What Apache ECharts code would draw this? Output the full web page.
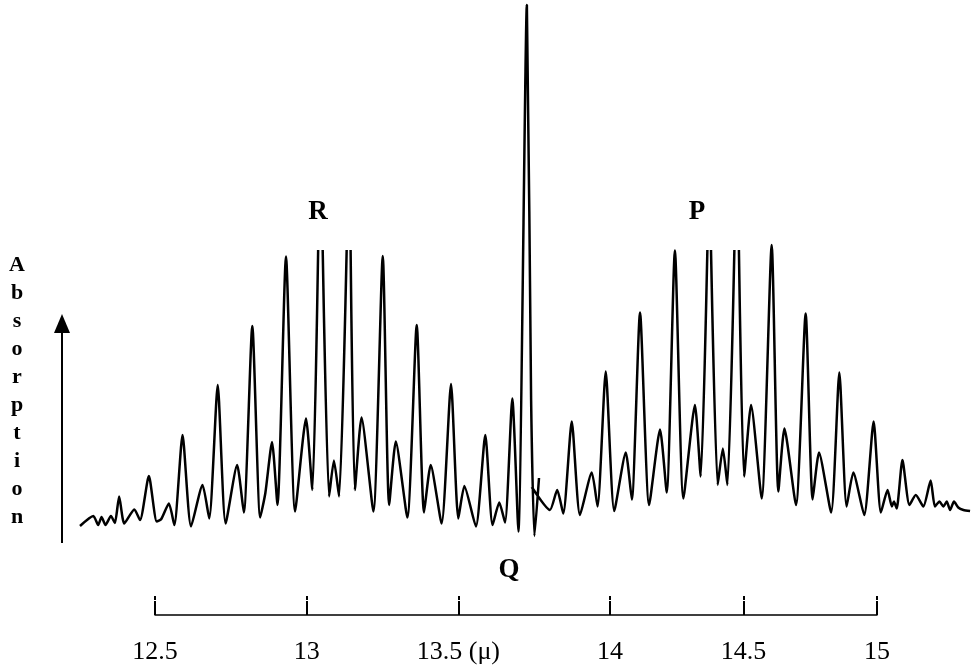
<!DOCTYPE html>
<html>
<head>
<meta charset="utf-8">
<script src="https://cdn.jsdelivr.net/npm/echarts@6/dist/echarts.min.js"></script>
<style>
  html, body { margin: 0; padding: 0; background: #fff; }
  #spectrum { width: 971px; height: 666px; }
</style>
</head>
<body>
<div id="spectrum"></div>
<script>
// wavelength (μ) and absorption; null = pen off scale / break
var rX = [12.253, 12.297, 12.313, 12.324, 12.337, 12.355, 12.368, 12.382, 12.399, 12.432,
	12.451, 12.480, 12.506, 12.521, 12.546, 12.564, 12.591, 12.619, 12.657, 12.679,
	12.707, 12.733, 12.771, 12.793, 12.821, 12.847, 12.864, 12.886, 12.904, 12.932,
	12.962, 12.998, 13.019, 13.038, 13.045, 13.053, 13.074, 13.090, 13.107, 13.132,
	13.139, 13.145, 13.159, 13.181, 13.220, 13.251, 13.272, 13.294, 13.332, 13.363,
	13.387, 13.409, 13.445, 13.476, 13.500, 13.520, 13.558, 13.589, 13.613, 13.635,
	13.654, 13.678, 13.698];
var rY = [2.8, 4.8, 3.0, 4.6, 3.0, 4.8, 3.4, 8.7, 3.3, 6.1,
	4.0, 12.8, 3.7, 4.2, 7.3, 3.0, 21.0, 2.7, 11.0, 4.3,
	31.0, 3.3, 15.0, 5.5, 42.8, 4.5, 9.4, 19.6, 7.0, 56.7,
	5.7, 24.3, 10.0, 58, null, 58, 8.7, 15.9, 8.7, 58,
	null, 58, 10.0, 24.5, 5.7, 56.8, 7.0, 19.7, 4.5, 43.0,
	5.5, 15.0, 3.3, 31.2, 4.3, 10.8, 2.7, 21.0, 3.0, 7.5,
	3.5, 28.3, 1.7];

var qX = [13.726, 13.740, 13.751, 13.766, 13.766];
var qY = [107, 28, 0.8, 12.4, null];

var pX = [13.742, 13.802, 13.826, 13.846, 13.874, 13.901, 13.940, 13.959, 13.986, 14.014,
	14.052, 14.072, 14.099, 14.129, 14.165, 14.187, 14.214, 14.242, 14.280, 14.299,
	14.321, 14.327, 14.333, 14.355, 14.372, 14.387, 14.410, 14.417, 14.425, 14.442,
	14.465, 14.500, 14.533, 14.555, 14.575, 14.613, 14.645, 14.668, 14.689, 14.729,
	14.756, 14.780, 14.802, 14.838, 14.869, 14.893, 14.915, 14.929, 14.936, 14.945,
	14.964, 14.987, 15.008, 15.033, 15.057, 15.071, 15.086, 15.099, 15.110, 15.121,
	15.134, 15.148, 15.165, 15.187];
var pY = [10.6, 6.0, 10.0, 5.3, 23.7, 5.0, 13.5, 6.7, 33.7, 5.8,
	17.5, 8.1, 45.5, 7.0, 22.1, 9.5, 57.9, 8.3, 27.0, 12.7,
	58, null, 58, 11.0, 18.3, 11.0, 58, null, 58, 12.7,
	27.0, 8.3, 59.0, 9.7, 22.3, 7.0, 45.3, 8.1, 17.5, 5.5,
	33.5, 6.7, 13.5, 5.0, 23.7, 5.5, 10.0, 6.7, 7.7, 6.3,
	16.0, 7.0, 9.0, 6.7, 11.9, 6.7, 7.7, 6.7, 7.7, 6.0,
	7.7, 6.5, 6.0, 5.8];

// printed scale: tick positions on the wavelength axis and their labels
var tickPos = [12.5, 13, 13.5, 14, 14.44, 14.88];
var tickText = ["12.5", "13", "13.5 (μ)", "14", "14.5", "15"];

var axisLetters = ["A", "b", "s", "o", "r", "p", "t", "i", "o", "n"];

function pairs(xs, ys) {
	return xs.map(function (x, i) {
		return [x, ys[i] === null ? "-" : ys[i]];
	});
}
var trace = pairs(rX, rY).concat(pairs(qX, qY), pairs(pX, pY));

var serif = '"Liberation Serif", "DejaVu Serif", serif';

var myChart = echarts.init(document.getElementById("spectrum"));

var option = {
	backgroundColor: "#fff",
	animation: false,
	grid: [
		{ left: 80, right: 0, top: 5, bottom: 126 },
		{ left: 155, right: 94, top: 600, height: 15 }
	],
	xAxis: [
		{ type: "value", gridIndex: 0, min: 12.253, max: 15.19, show: false },
		{
			type: "value",
			gridIndex: 1,
			min: 12.5,
			max: 14.88,
			axisLine: { show: true, lineStyle: { color: "#000", width: 1.5 } },
			axisTick: {
				show: true,
				inside: true,
				length: 14,
				customValues: tickPos,
				lineStyle: { color: "#000", width: 2 }
			},
			axisLabel: {
				show: true,
				customValues: tickPos,
				margin: 24,
				color: "#000",
				fontFamily: serif,
				fontSize: 26,
				formatter: function (v) {
					var i = tickPos.indexOf(v);
					return i < 0 ? "" : tickText[i];
				}
			},
			splitLine: { show: false }
		},
		{
			type: "value",
			gridIndex: 1,
			min: 12.5,
			max: 14.88,
			axisLine: { show: false },
			axisTick: {
				show: true,
				inside: false,
				length: 4,
				customValues: tickPos,
				lineStyle: { color: "#000", width: 2 }
			},
			axisLabel: { show: false },
			splitLine: { show: false }
		}
	],
	yAxis: [
		{ type: "value", gridIndex: 0, min: 0, max: 107, show: false },
		{ type: "value", gridIndex: 1, min: 0, max: 1, show: false }
	],
	series: [
		{
			type: "line",
			xAxisIndex: 0,
			yAxisIndex: 0,
			data: trace,
			showSymbol: false,
			smooth: 0.2,
			connectNulls: false,
			clip: false,
			lineStyle: { color: "#000", width: 2.5 }
		}
	],
	graphic: [
		// absorption arrow
		{
			type: "line",
			shape: { x1: 62, y1: 543, x2: 62, y2: 328 },
			style: { stroke: "#000", lineWidth: 2 }
		},
		{
			type: "polygon",
			shape: { points: [[62, 314], [54, 333], [70, 333]] },
			style: { fill: "#000" }
		},
		{
			type: "text",
			x: 17,
			y: 251,
			style: {
				text: axisLetters.join("\n"),
				font: "bold 22px " + serif,
				lineHeight: 28,
				align: "center",
				fill: "#000"
			}
		},
		// branch labels
		{
			type: "text",
			x: 318,
			y: 212,
			style: { text: "R", font: "bold 27px " + serif, align: "center", verticalAlign: "middle", fill: "#000" }
		},
		{
			type: "text",
			x: 697,
			y: 212,
			style: { text: "P", font: "bold 27px " + serif, align: "center", verticalAlign: "middle", fill: "#000" }
		},
		{
			type: "text",
			x: 509,
			y: 570,
			style: { text: "Q", font: "bold 27px " + serif, align: "center", verticalAlign: "middle", fill: "#000" }
		}
	]
};
myChart.setOption(option);
</script>
</body>
</html>
